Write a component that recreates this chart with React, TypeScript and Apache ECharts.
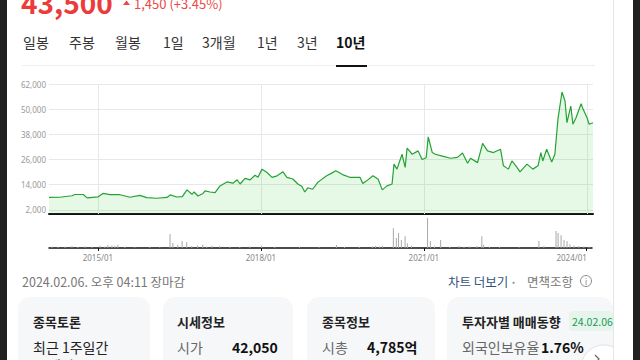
import React, { useEffect, useRef } from 'react';
import * as echarts from 'echarts';

const priceDates = ['2014-02-06','2014-04-20','2014-07-10','2014-07-30','2014-09-24','2014-10-20','2015-01-02','2015-02-03','2015-03-22','2015-05-29',
'2015-08-04','2015-10-09','2015-11-24','2016-02-01','2016-04-08','2016-04-30','2016-06-13','2016-07-20','2016-08-20','2016-09-23',
'2016-10-07','2016-11-02','2016-12-06','2016-12-20','2017-01-22','2017-02-25','2017-03-30','2017-05-15','2017-06-25','2017-07-23',
'2017-08-12','2017-09-14','2017-10-18','2017-11-20','2017-12-10','2018-01-06','2018-02-09','2018-03-14','2018-04-17','2018-05-27',
'2018-06-22','2018-08-01','2018-09-04','2018-10-01','2018-10-20','2018-11-09','2018-12-12','2019-01-14','2019-01-28','2019-03-16',
'2019-04-19','2019-05-16','2019-07-01','2019-08-18','2019-10-25','2019-11-14','2019-12-09','2020-01-21','2020-02-25','2020-03-23','2020-04-24','2020-05-28',
'2020-06-10','2020-06-30','2020-08-03','2020-08-24','2020-09-06','2020-10-10','2020-11-19','2020-12-16','2021-01-12','2021-01-26',
'2021-02-22','2021-03-14','2021-05-07','2021-06-24','2021-08-10','2021-09-13','2021-10-17','2021-11-06','2021-12-23','2022-01-26',
'2022-02-28','2022-04-09','2022-05-26','2022-06-15','2022-07-18','2022-08-11','2022-09-14','2022-10-04','2022-11-20','2022-12-29',
'2023-02-02','2023-02-21','2023-03-06','2023-04-01','2023-05-05','2023-05-26','2023-06-16','2023-07-13','2023-08-02','2023-08-15',
'2023-09-10','2023-09-24','2023-10-15','2023-11-18','2023-12-02','2023-12-28','2024-01-11','2024-02-06'];

const priceValues = [7900,8000,8700,9300,9300,7700,8200,9800,9200,9200,
8000,8900,7800,7500,7900,9100,8100,8300,11500,9400,
10500,8600,9800,11000,10500,10200,13400,15300,14700,16300,
14300,17000,16300,18500,17500,21400,19800,17500,18200,20100,
17500,16700,14300,13100,10500,12500,11800,15000,15800,18200,
19500,20600,18800,17500,17500,14600,15800,18200,16600,11500,13400,14300,
23800,21400,28500,22200,31400,28500,30100,26000,26800,36800,
29300,28500,27500,26600,27000,29100,24200,26600,24500,33700,
30100,29300,30900,23000,21400,25300,22200,20100,23800,21400,
23000,29300,25300,30900,24800,28500,45500,58200,53900,43600,
51500,42800,45900,52600,49900,45900,42800,43500];

const volumeDates = ['2014-02-26','2014-04-08','2014-05-25','2014-07-10','2014-08-19','2014-10-06','2014-11-22','2015-01-15','2015-02-17','2015-03-09',
'2015-04-05','2015-04-25','2015-05-15','2015-07-01','2015-09-06','2015-12-16','2016-02-21','2016-04-30','2016-05-19','2016-06-21',
'2016-07-20','2016-08-20','2016-09-23','2016-11-02','2016-12-06','2017-01-02','2017-02-05','2017-03-30','2017-06-06','2017-08-12',
'2017-10-18','2018-01-06','2018-04-04','2018-09-18','2019-01-28','2019-05-24','2019-07-17','2019-10-25','2020-01-21','2020-02-11',
'2020-03-08','2020-03-28','2020-06-10','2020-06-30','2020-07-15','2020-08-03','2020-08-28','2020-09-12','2020-10-10','2021-01-26',
'2021-02-14','2021-03-14','2021-04-24','2021-06-24','2021-08-26','2021-09-28','2021-11-06','2021-12-23','2022-01-26','2022-02-07',
'2022-03-18','2022-05-26','2022-10-04','2023-02-14','2023-03-19','2023-06-09','2023-06-23','2023-07-13','2023-08-02','2023-08-22',
'2023-09-10','2023-10-08','2023-11-10','2023-12-13','2024-01-18'];

const volumeValues = [5,3,4,6,3,5,4,7,5,9,
8,6,10,3,2,3,2,44,16,10,
22,18,6,8,10,5,7,6,4,3,
5,6,4,3,2,9,3,3,5,6,
5,7,62,31,47,25,37,15,6,94,
22,5,25,3,6,4,5,6,37,10,
4,3,2,22,6,53,47,40,25,22,
12,8,6,5,4];

const yTickValues = [2000, 14000, 26000, 38000, 50000, 62000];
const xTickDates = ['2015-01-01', '2018-01-01', '2021-01-01', '2024-01-01'];

const tabLabels = ['일봉', '주봉', '월봉', '1일', '3개월', '1년', '3년', '10년'];
const lastPrice = '43,500';
const priceChange = '1,450 (+3.45%)';
const updatedAt = '2024.02.06. 오후 04:11 장마감';

const FONT = '"Noto Sans CJK KR", "Noto Sans", sans-serif';

const ts = (s: string) => {
  const [y, m, d] = s.split('-').map(Number);
  return new Date(y, m - 1, d).getTime();
};

function T(text: string, x: number, y: number, size: number, fill: string, weight: string = 'normal', extra: any = {}) {
  return {
    type: 'text', x, y, silent: true, z: 10,
    style: { text, fontSize: size, fontWeight: weight, fontFamily: FONT, fill, verticalAlign: 'middle', align: 'left', ...extra },
  };
}

export default function App() {
  const ref = useRef<HTMLDivElement>(null);
  useEffect(() => {
    if (!ref.current) return;
    const chart = echarts.init(ref.current, null, { renderer: 'svg' });
    const priceData = priceDates.map((d, i) => [ts(d), priceValues[i]]);
    const volData = volumeDates.map((d, i) => [ts(d), volumeValues[i]]);
    const xTicks = xTickDates.map(ts);
    const minT = ts(priceDates[0]);
    const maxT = ts(priceDates[priceDates.length - 1]);
    const fmtDate = (v: number) => {
      const d = new Date(v);
      const s = `${d.getFullYear()}/${String(d.getMonth() + 1).padStart(2, '0')}`;
      return v === xTicks[xTicks.length - 1] ? `{last|${s}}` : s;
    };

    const tabX = [23, 69, 115, 163, 202, 257, 297, 336];
    const graphic: any[] = [
      { type: 'rect', shape: { x: 18, y: 297, width: 132, height: 90, r: 12 }, style: { fill: '#f6f7f9' }, z: 1, silent: true },
      { type: 'rect', shape: { x: 163, y: 297, width: 130, height: 90, r: 12 }, style: { fill: '#f6f7f9' }, z: 1, silent: true },
      { type: 'rect', shape: { x: 307, y: 297, width: 128, height: 90, r: 12 }, style: { fill: '#f6f7f9' }, z: 1, silent: true },
      { type: 'rect', shape: { x: 447, y: 297, width: 166, height: 90, r: 12 }, style: { fill: '#f6f7f9' }, z: 1, silent: true },
      T(lastPrice, 21, 2, 28, '#ec3b3b', 'bold'),
      { type: 'polygon', shape: { points: [[123, 5], [126.5, 0.5], [130, 5]] }, style: { fill: '#ec4848' }, z: 10, silent: true },
      T(priceChange, 134, 3, 13, '#ec4848'),
      ...tabLabels.map((t, i) => T(t, tabX[i], 42, 14, i === tabLabels.length - 1 ? '#111' : '#333', i === tabLabels.length - 1 ? 'bold' : 'normal')),
      { type: 'line', shape: { x1: 22, y1: 65.5, x2: 595, y2: 65.5 }, style: { stroke: '#eeeeee', lineWidth: 1 }, z: 10, silent: true },
      { type: 'rect', shape: { x: 336, y: 65, width: 31, height: 2 }, style: { fill: '#111' }, z: 11, silent: true },
      T(updatedAt, 22, 281, 12.5, '#777'),
      T('차트 더보기', 448, 281, 12.5, '#31527f'),
      T('·', 510, 281, 12, '#999', 'bold'),
      T('면책조항', 527, 281, 12.5, '#777'),
      { type: 'circle', shape: { cx: 586, cy: 281, r: 5.5 }, style: { fill: 'none', stroke: '#888', lineWidth: 1 }, z: 10, silent: true },
      T('i', 586, 281.5, 8, '#888', 'normal', { align: 'center' }),
      T('종목토론', 33, 321, 13, '#222', 'bold'),
      T('최근 1주일간', 33, 347, 14, '#222'),
      T('제일', 48, 365, 14, '#222'),
      T('시세정보', 177, 321, 13, '#222', 'bold'),
      T('시가', 177, 347, 14, '#666'),
      T('42,050', 232, 347, 14, '#111', 'bold'),
      T('종목정보', 322, 321, 13, '#222', 'bold'),
      T('시총', 322, 347, 14, '#666'),
      T('4,785억', 367, 347, 14, '#111', 'bold'),
      T('투자자별 매매동향', 462, 321, 13, '#222', 'bold'),
      { type: 'rect', shape: { x: 569, y: 311, width: 44, height: 20, r: 4 }, style: { fill: '#e6f5ec' }, z: 10, silent: true },
      T('24.02.06', 572, 321, 10.5, '#1d9a55'),
      T('외국인보유율', 462, 347, 14, '#666'),
      T('1.76%', 541, 347, 14, '#111', 'bold'),
      { type: 'circle', shape: { cx: 604, cy: 368, r: 23 }, style: { fill: '#fff', stroke: '#e2e2e2', lineWidth: 1 }, z: 12, silent: true },
      { type: 'polyline', shape: { points: [[595, 355], [599, 359], [595, 363]] }, style: { stroke: '#666', lineWidth: 1.2, fill: 'none' }, z: 13, silent: true },
      { type: 'rect', shape: { x: 613, y: 0, width: 20, height: 360 }, style: { fill: '#ffffff' }, z: 100, silent: true },
      { type: 'rect', shape: { x: 613, y: 0, width: 1, height: 360 }, style: { fill: '#e6e6e6' }, z: 101, silent: true },
      { type: 'rect', shape: { x: 0, y: 0, width: 7, height: 360 }, style: { fill: '#202020' }, z: 102, silent: true },
      { type: 'rect', shape: { x: 633, y: 0, width: 7, height: 360 }, style: { fill: '#202020' }, z: 102, silent: true },
    ];

    chart.setOption({
      animation: false,
      backgroundColor: '#fff',
      textStyle: { fontFamily: FONT },
      graphic: { elements: graphic },
      grid: [
        { left: 49, top: 84, width: 544, height: 130 },
        { left: 49, top: 216, width: 543, height: 32 },
      ],
      xAxis: [
        {
          type: 'value', gridIndex: 0, min: minT, max: maxT,
          axisLine: { show: true, lineStyle: { color: '#111', width: 2 } },
          axisTick: { show: false }, axisLabel: { show: false }, splitLine: { show: false },
        },
        {
          type: 'value', gridIndex: 1, min: minT, max: maxT,
          axisLine: { show: true, lineStyle: { color: '#111', width: 1.5 } },
          axisTick: { show: true, customValues: xTicks, length: 3, lineStyle: { color: '#111' } },
          axisLabel: {
            customValues: xTicks, formatter: fmtDate, fontSize: 8, color: '#888', margin: 5, fontFamily: 'Noto Sans',
            rich: { last: { fontSize: 8, color: '#888', fontFamily: 'Noto Sans', padding: [0, 30, 0, 0] } },
          },
          splitLine: { show: false },
        },
      ],
      yAxis: [
        {
          type: 'value', gridIndex: 0, min: 0, max: 62000,
          axisLine: { show: false }, axisTick: { show: false }, splitLine: { show: false },
          axisLabel: {
            customValues: yTickValues, fontSize: 8, color: '#999', margin: 3, fontFamily: 'Noto Sans',
            formatter: (v: number) => v.toLocaleString('en-US'),
          },
        },
        { type: 'value', gridIndex: 1, min: 0, max: 100, show: false },
      ],
      series: [
        {
          type: 'line', xAxisIndex: 0, yAxisIndex: 0, data: priceData, showSymbol: false, z: 3,
          lineStyle: { color: '#25a233', width: 1.2 },
          areaStyle: { color: 'rgba(40,200,40,0.17)' },
          markLine: {
            z: 1, silent: true, symbol: ['none', 'none'], label: { show: false },
            lineStyle: { color: '#e8e8e8', width: 1, type: 'solid' },
            emphasis: { disabled: true },
            data: [...yTickValues.map((v) => ({ yAxis: v })), ...xTicks.map((t) => ({ xAxis: t }))],
          },
        },
        {
          type: 'bar', xAxisIndex: 1, yAxisIndex: 1, data: volData, barWidth: 1,
          itemStyle: { color: '#a8a8a8' },
        },
      ],
    });
    return () => chart.dispose();
  }, []);
  return (
    <div style={{ position: 'absolute', left: 0, top: 0, width: 640, height: 360, overflow: 'hidden', background: '#fff' }}>
      <div ref={ref} style={{ position: 'absolute', left: 0, top: 0, width: 640, height: 360 }} />
    </div>
  );
}
